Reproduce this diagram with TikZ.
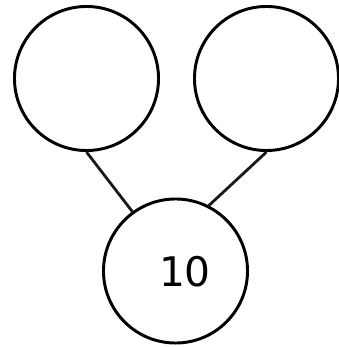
\documentclass[tikz,border=0pt]{standalone}
\usepackage{fontspec}
\setmainfont{DejaVu Sans}
\usetikzlibrary{positioning}

\begin{document}
\begin{tikzpicture}[
    x=0.025cm, y=-0.025cm,
    bond/.style={draw, circle, line width=2.1pt, minimum size=3.6cm, inner sep=0pt},
    link/.style={line width=2pt, draw=black!90},
    numlabel/.style={font=\fontsize{29}{29}\selectfont}
]
    \useasboundingbox (0,0) rectangle (338,347);

    % --- Parts ---
    \node[bond] (left) at (86.5, 78.5) {};
    \node[bond] (right) at (266.5, 78.5) {};

    % --- Whole ---
    \node[bond] (whole) at (175.5, 271) {};
    \node[numlabel] (num) at (185, 272) {10};

    % Links
    \draw[link] (left.south) -- (whole.126);
    \draw[link] (right.south) -- (whole.63);

\end{tikzpicture}
\end{document}
